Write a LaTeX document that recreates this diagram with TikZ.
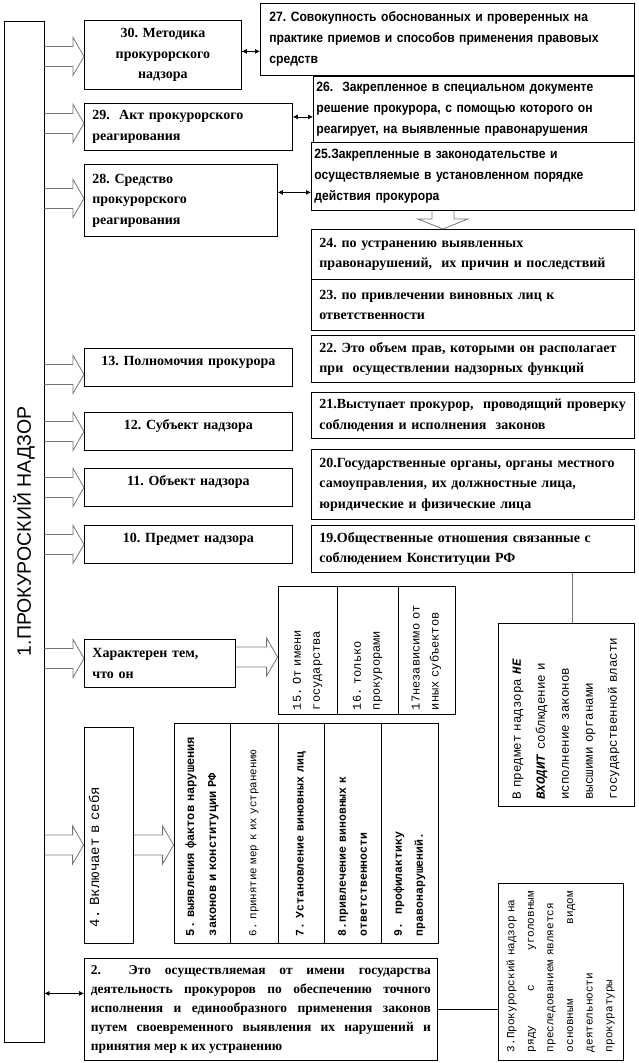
\documentclass[tikz,border=0pt]{standalone}
\usepackage{fontspec}
\setmainfont{Liberation Serif}
\setsansfont{Liberation Sans}
\setmonofont{Liberation Mono}
\newfontfamily\narrowsf[FakeStretch=0.9]{Liberation Sans}
\frenchspacing
\usetikzlibrary{
  calc,%
  arrows.meta
}
\definecolor{arrowgray}{RGB}{118,118,118}
\tikzset{>={Latex[length=5pt,width=5pt]}}
\tikzset{
  box/.style={draw, line width=0.8pt, anchor=north west, inner xsep=8pt, inner ysep=1pt},
  serifbox/.style={box, align=left, font=\fontsize{14}{20.5}\selectfont\bfseries},
  narrowbox/.style={box, align=left, font=\fontsize{13.5}{21}\selectfont\narrowsf\bfseries},
  upper/.style={text height=10pt, text depth=13pt},
  vbox/.style={draw, line width=0.8pt, rotate=90, anchor=center, align=left,
    inner xsep=7pt, inner ysep=1pt, font=\fontsize{11.5}{21}\selectfont\ttfamily},
  fatline/.style={draw=arrowgray, line width=0.8pt, line join=miter},
  link/.style={line width=0.7pt, <->},
  plainlink/.style={line width=0.8pt},
}
% hollow arrow, left to right: [y shift]{start}{target}
\newcommand{\fatarrow}[3][0pt]{%
  \draw[fatline] let \p1=(#2), \p2=([yshift=#1]#3) in
    (\x1,\y2+10pt) -- (\x2-11pt,\y2+10pt) -- (\x2-11pt,\y2+19pt) -- (\x2,\y2)
    -- (\x2-11pt,\y2-19pt) -- (\x2-11pt,\y2-10pt) -- (\x1,\y2-10pt);}
% hollow arrow, downwards
\newcommand{\fatarrowdown}[2]{%
  \draw[fatline] let \p1=(#1), \p2=(#2) in
    (\x1-11pt,\y1) -- (\x1-11pt,\y2+10pt) -- (\x1-25pt,\y2+10pt) -- (\x1,\y2)
    -- (\x1+25pt,\y2+10pt) -- (\x1+11pt,\y2+10pt) -- (\x1+11pt,\y1);}

\begin{document}
\begin{tikzpicture}[x=1pt, y=-1pt]
  \useasboundingbox (0,0) rectangle (638,1063);%
  % left column
  \node[vbox, align=center, minimum width=1021, minimum height=40,
    font=\fontsize{19.5}{21}\selectfont\sffamily] (main) at (24,531.5) {1.ПРОКУРОСКИЙ НАДЗОР};%
  % top part
  \node[serifbox, align=center, minimum width=157, minimum height=69, text width=141pt] (b30) at (84,20)
    {30. Методика\\прокурорского\\надзора};%
  \node[narrowbox, inner xsep=9pt, minimum width=374, minimum height=72, text width=356pt] (b27) at (260,3)
    {27. Совокупность обоснованных и проверенных на\\практике приемов и способов применения правовых\\средств};%
  \node[serifbox, minimum width=208, minimum height=47, text width=192pt] (b29) at (84,103)
    {29.\ \ Акт прокурорского\\реагирования};%
  \node[narrowbox, inner xsep=3pt, minimum width=321, minimum height=66, text width=315pt] (b26) at (313,76)
    {26.\ \ Закрепленное в специальном документе\\решение прокурора, с помощью которого он\\реагирует, на выявленные правонарушения};%
  \node[serifbox, minimum width=193, minimum height=72, text width=177pt] (b28) at (84,164)
    {28. Средство\\прокурорского\\реагирования};%
  \node[narrowbox, inner xsep=3pt, minimum width=323, minimum height=68, text width=317pt] (b25) at (311,142)
    {25.Закрепленные в законодательстве и\\осуществляемые в установленном порядке\\действия прокурора};%
  \node[serifbox, minimum width=323, minimum height=50, text width=307pt] (b24) at (311,229)
    {24. по устранению выявленных\\правонарушений,\ \ их причин и последствий};%
  \node[serifbox, minimum width=323, minimum height=51, text width=307pt] (b23) at (311,279)
    {23. по привлечении виновных лиц к\\ответственности};%
  % middle rows
  \node[serifbox, minimum width=323, minimum height=47, text width=307pt] (b22) at (311,335)
    {22. Это объем прав, которыми он располагает\\при\ \ осуществлении надзорных функций};%
  \node[serifbox, upper, align=center, minimum width=208, minimum height=38, text width=192pt] (b13) at (84,348)
    {13. Полномочия прокурора};%
  \node[serifbox, minimum width=323, minimum height=46, text width=307pt] (b21) at (311,392)
    {21.Выступает прокурор,\ \ проводящий проверку\\соблюдения и исполнения\ \ законов};%
  \node[serifbox, upper, align=center, minimum width=208, minimum height=38, text width=192pt] (b12) at (84,412)
    {12. Субъект надзора};%
  \node[serifbox, minimum width=323, minimum height=70, text width=307pt] (b20) at (311,449)
    {20.Государственные органы, органы местного\\самоуправления, их должностные лица,\\юридические и физические лица};%
  \node[serifbox, upper, align=center, minimum width=208, minimum height=38, text width=192pt] (b11) at (84,468)
    {11. Объект надзора};%
  \node[serifbox, minimum width=323, minimum height=47, text width=307pt] (b19) at (311,525)
    {19.Общественные отношения связанные с\\соблюдением Конституции РФ};%
  \node[serifbox, upper, align=center, minimum width=208, minimum height=38, text width=192pt] (b10) at (84,525)
    {10. Предмет надзора};%
  \node[vbox, minimum width=183, minimum height=136, text width=170pt, inner xsep=6.5pt,
    font=\fontsize{12.5}{24}\selectfont\ttfamily] (bNE) at (566,714.5)
    {В предмет надзора \textbf{\textit{НЕ}}\\\textbf{\textit{ВХОДИТ}} соблюдение и\\исполнение законов\\высшими органами\\государственной власти};%
  % characteristics
  \node[serifbox, minimum width=151, minimum height=48, text width=135pt] (bchar) at (84,639)
    {Характерен тем,\\что он};%
  \node[vbox, minimum width=128, minimum height=59, text width=120pt, inner xsep=4pt,
    font=\fontsize{12}{19}\selectfont\ttfamily] (b15) at (307.5,650) {15. От имени\\государства};%
  \node[vbox, minimum width=128, minimum height=61, text width=120pt, inner xsep=4pt,
    font=\fontsize{12}{19}\selectfont\ttfamily] (b16) at (367.5,650) {16. только\\прокурорами};%
  \node[vbox, minimum width=128, minimum height=57, text width=120pt, inner xsep=4pt,
    font=\fontsize{12}{19}\selectfont\ttfamily] (b17) at (426.5,650) {17независимо от\\иных субъектов};%
  % what it includes
  \node[vbox, minimum width=216, minimum height=49, text width=184pt, inner xsep=16pt,
    text height=10pt, text depth=29pt, font=\fontsize{14}{20}\selectfont\ttfamily] (b4) at (108.5,835)
    {4. Включает в себя};%
  \node[vbox, minimum width=220, minimum height=56, text width=206pt,
    font=\fontsize{12}{22}\selectfont\ttfamily\bfseries] (b5) at (202,833)
    {5. выявления фактов нарушения\\законов и конституции РФ};%
  \node[vbox, minimum width=220, minimum height=48, text width=206pt,
    font=\fontsize{10.8}{21}\selectfont\ttfamily] (b6) at (254,833)
    {6. принятие мер к их устранению};%
  \node[vbox, minimum width=220, minimum height=46, text width=206pt,
    font=\fontsize{11.5}{21}\selectfont\ttfamily\bfseries] (b7) at (301,833)
    {7. Установление виновных лиц};%
  \node[vbox, minimum width=220, minimum height=57, text width=206pt,
    font=\fontsize{11.5}{21}\selectfont\ttfamily\bfseries] (b8) at (352.5,833)
    {8.привлечение виновных к\\ответственности};%
  \node[vbox, minimum width=220, minimum height=57, text width=206pt,
    font=\fontsize{11.5}{21}\selectfont\ttfamily\bfseries] (b9) at (409.5,833)
    {9.\ \ профилактику\\правонарушений.};%
  % definition
  \node[serifbox, align=justify, inner xsep=6.5pt, minimum width=353, minimum height=102, text width=340pt,
    font=\fontsize{13.5}{18.8}\selectfont\bfseries] (b2) at (84,958)
    {2.\ \ Это осуществляемая от имени государства\linebreak деятельность прокуроров по обеспечению точного\linebreak исполнения и единообразного применения законов\linebreak путем своевременного выявления их нарушений и\linebreak принятия мер к их устранению};%
  \node[vbox, minimum width=177, minimum height=125, text width=161pt, inner xsep=8pt,
    font=\fontsize{11}{19.6}\selectfont\ttfamily] (b3) at (560.5,971.5)
    {3.Прокурорский надзор на\\ряду\hfill с\hfill уголовным\\преследованием является\\основным\hfill видом\\деятельности\\прокуратуры};%
  % hollow arrows
  \fatarrow[-1.5pt]{main.south}{b30.west}%
  \fatarrow[3.5pt]{main.south}{b29.west}%
  \fatarrow[2pt]{main.south}{b28.west}%
  \fatarrow[-7pt]{main.south}{b13.west}%
  \fatarrow{main.south}{b12.west}%
  \fatarrow{main.south}{b11.west}%
  \fatarrow{main.south}{b10.west}%
  \fatarrow[5pt]{main.south}{bchar.west}%
  \fatarrow[-7pt]{bchar.east}{b15.north}%
  \fatarrow[-10pt]{main.south}{b4.north}%
  \fatarrow[-12pt]{b4.south}{b5.north}%
  \fatarrowdown{[xshift=-30pt]b25.south}{b24.north}%
  % double arrows and lines
  \draw[link] ([yshift=3.5pt]b30.east) -- ([yshift=3.5pt]b30.east -| b27.west);%
  \draw[link] ([yshift=10pt]b29.east) -- ([yshift=10pt]b29.east -| b26.west);%
  \draw[link] ([yshift=8pt]b28.east) -- ([yshift=8pt]b28.east -| b25.west);%
  \draw[link] ([yshift=16pt]b2.west -| main.south) -- ([yshift=16pt]b2.west);%
  \draw[plainlink, draw=arrowgray] ([xshift=6pt]bNE.east |- b19.south) -- ([xshift=6pt]bNE.east);%
  \draw[plainlink] (b2.east) -- (b2.east -| b3.north);%
\end{tikzpicture}
\end{document}
